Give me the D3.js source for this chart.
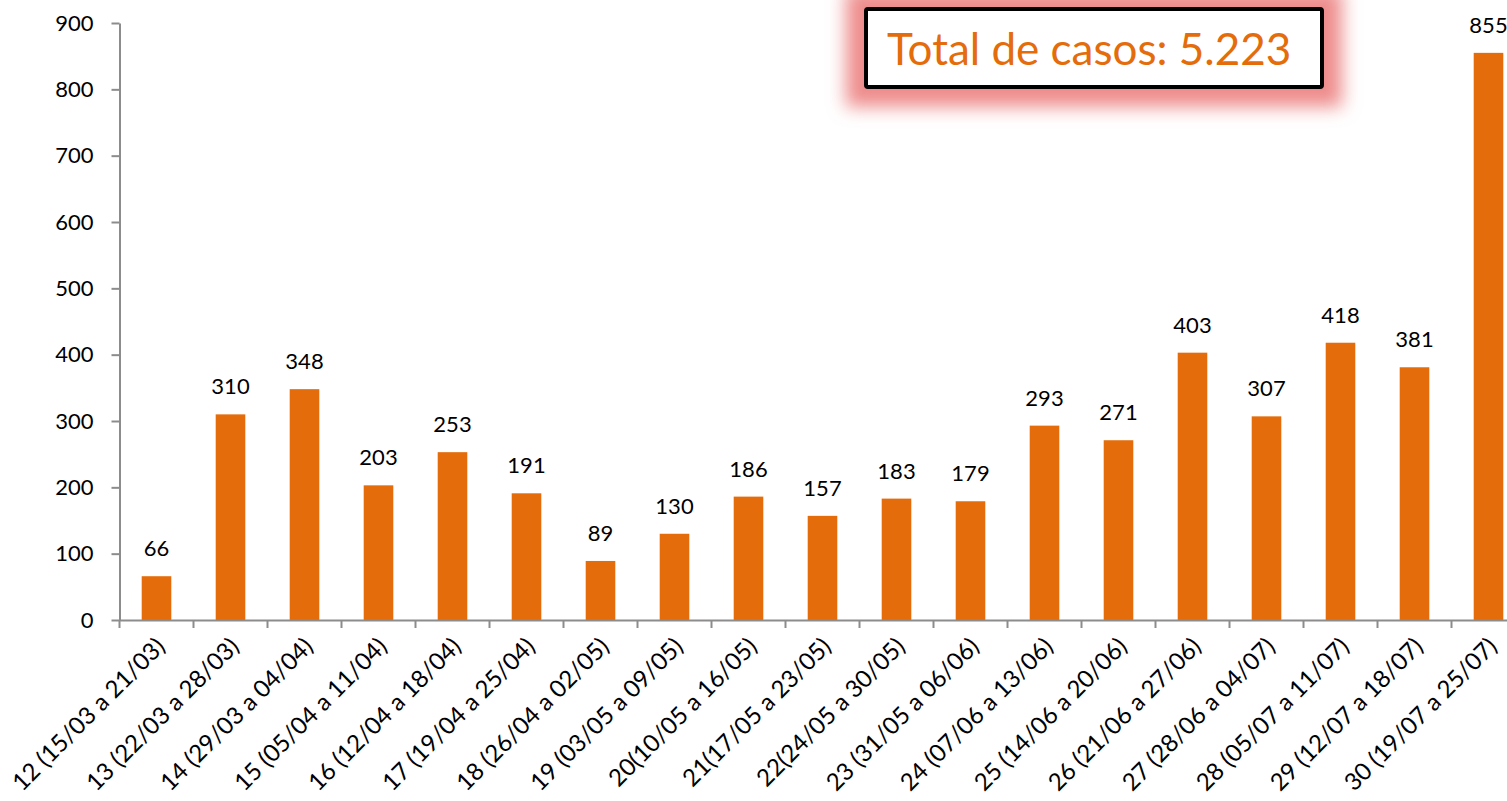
<!DOCTYPE html>
<html>
<head>
<meta charset="utf-8">
<script src="https://cdn.jsdelivr.net/npm/d3@7"></script>
<style>
  html, body { margin: 0; padding: 0; background: #fff; overflow: hidden; }
  svg { display: block; font-family: Lato, "Open Sans", sans-serif; }
</style>
</head>
<body>
<svg id="chart" width="1507" height="801"></svg>
<script>
const categories = [
  "12 (15/03 a 21/03)", "13 (22/03 a 28/03)", "14 (29/03 a 04/04)", "15 (05/04 a 11/04)",
  "16 (12/04 a 18/04)", "17 (19/04 a 25/04)", "18 (26/04 a 02/05)", "19 (03/05 a 09/05)",
  "20(10/05 a 16/05)", "21(17/05 a 23/05)", "22(24/05 a 30/05)", "23 (31/05 a 06/06)",
  "24 (07/06 a 13/06)", "25 (14/06 a 20/06)", "26 (21/06 a 27/06)", "27 (28/06 a 04/07)",
  "28 (05/07 a 11/07)", "29 (12/07 a 18/07)", "30 (19/07 a 25/07)"
];
const cases = [66, 310, 348, 203, 253, 191, 89, 130, 186, 157, 183, 179, 293, 271, 403, 307, 418, 381, 855];
const yTicks = [0, 100, 200, 300, 400, 500, 600, 700, 800, 900];
const totalLabel = "Total de casos: 5.223";

const svg = d3.select("#chart");
const mLeft = 119.5, mRight = 1525.5, mTop = 23, mBottom = 620;

const x = d3.scaleBand().domain(categories).range([mLeft, mRight]).paddingInner(0.6).paddingOuter(0.3);
const xb = d3.scaleBand().domain(categories).range([mLeft, mRight]).padding(0);
const y = d3.scaleLinear().domain([0, 900]).range([mBottom, mTop]);

const axisColor = "#8c8c8c";
const font = "Lato, 'Open Sans', sans-serif";

// total box with glow (drawn first, underneath)
const defs = svg.append("defs");
const f = defs.append("filter").attr("id", "glow")
  .attr("x", "-30%").attr("y", "-100%").attr("width", "160%").attr("height", "300%");
f.append("feGaussianBlur").attr("stdDeviation", 9);

const bx = 866, by = 9, bw = 456, bh = 78;
svg.append("rect").attr("x", bx - 20).attr("y", by - 20).attr("width", bw + 40).attr("height", bh + 40)
  .attr("fill", "#ee8c8c").attr("opacity", 1).attr("filter", "url(#glow)");
svg.append("rect").attr("x", bx).attr("y", by).attr("width", bw).attr("height", bh)
  .attr("fill", "#fff").attr("stroke", "#000").attr("stroke-width", 4).attr("rx", 2);
svg.append("text").attr("x", 887).attr("y", 65)
  .attr("font-size", 44).attr("fill", "#E46C0A").attr("font-family", font)
  .text(totalLabel);

// bars
svg.append("g").selectAll("rect").data(cases).join("rect")
  .attr("x", (d, i) => x(categories[i]))
  .attr("width", x.bandwidth())
  .attr("y", d => y(d))
  .attr("height", d => y(0) - y(d))
  .attr("fill", "#E46C0A");

// value labels
svg.append("g").selectAll("text").data(cases).join("text")
  .attr("x", (d, i) => x(categories[i]) + x.bandwidth() / 2)
  .attr("y", d => y(d) - 20)
  .attr("text-anchor", "middle")
  .attr("font-size", 22)
  .attr("font-family", font)
  .attr("fill", "#000")
  .text(d => d);

// y axis
const yAxis = svg.append("g")
  .attr("transform", `translate(${mLeft},0)`)
  .call(d3.axisLeft(y).tickValues(yTicks).tickSize(8).tickPadding(18).tickSizeOuter(0));
yAxis.select(".domain").attr("stroke", axisColor).attr("stroke-width", 2);
yAxis.selectAll(".tick line").attr("stroke", axisColor).attr("stroke-width", 2);
yAxis.selectAll(".tick text").attr("font-size", 22).attr("fill", "#000")
  .attr("font-family", font);

// x axis
const xAxis = svg.append("g")
  .attr("transform", `translate(0,${mBottom})`)
  .call(d3.axisBottom(xb).tickSize(0).tickSizeOuter(0));
xAxis.select(".domain").attr("stroke", axisColor).attr("stroke-width", 2);
xAxis.selectAll(".tick line").remove();
const boundaries = categories.map(c => xb(c));
svg.append("g").selectAll("line").data(boundaries).join("line")
  .attr("x1", d => d).attr("x2", d => d)
  .attr("y1", mBottom).attr("y2", mBottom + 8)
  .attr("stroke", axisColor).attr("stroke-width", 2);
xAxis.selectAll(".tick text")
  .attr("font-size", 24).attr("fill", "#000")
  .attr("font-family", font)
  .attr("text-anchor", "end")
  .attr("dy", 0)
  .attr("y", 0)
  .attr("transform", "translate(10,28) rotate(-45)");
</script>
</body>
</html>
